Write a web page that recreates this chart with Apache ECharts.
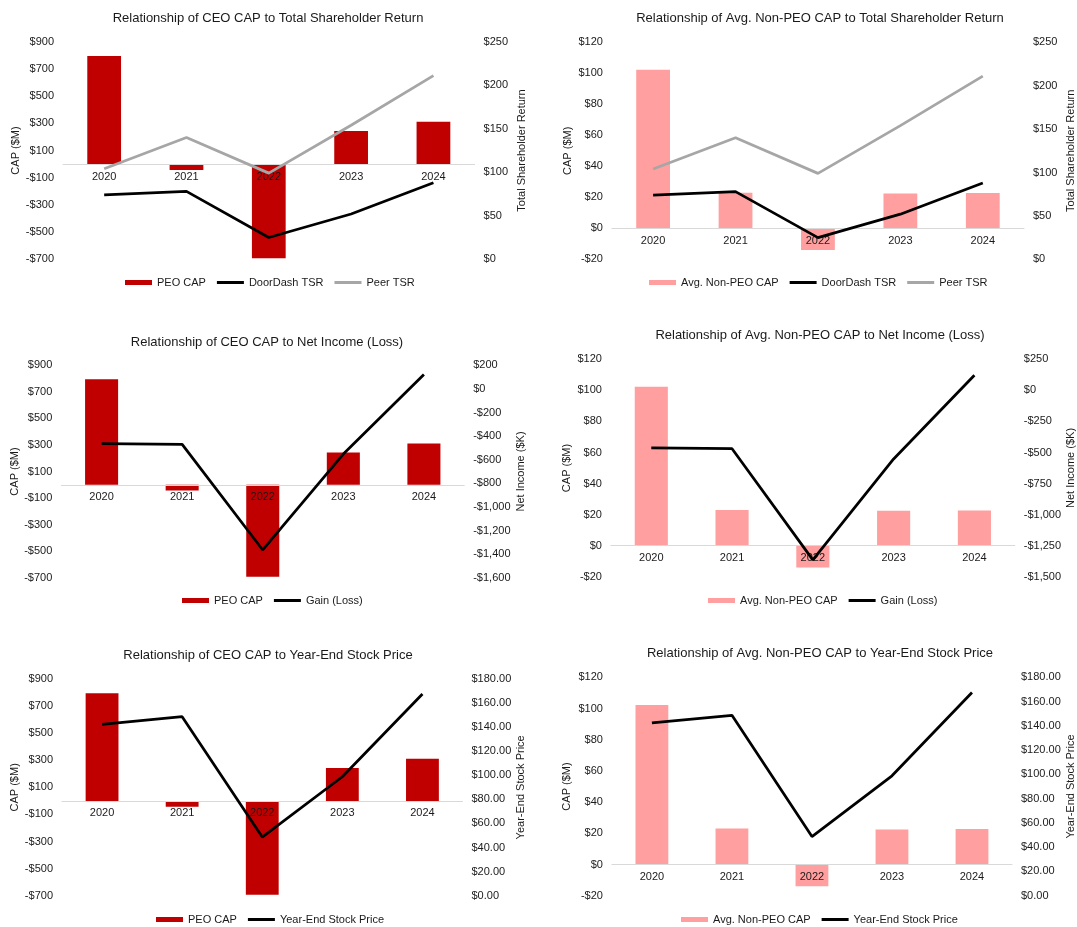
<!DOCTYPE html>
<html>
<head>
<meta charset="utf-8">
<title>Pay versus Performance</title>
<script src="https://cdn.jsdelivr.net/npm/echarts@6/dist/echarts.min.js"></script>
<style>
  html, body { margin: 0; padding: 0; background: #ffffff; }
  #chart { width: 1077px; height: 927px; }
</style>
</head>
<body>
<div id="chart"></div>
<script>
// ---- data ----
const years = ['2020', '2021', '2022', '2023', '2024'];
const peoCap = [795, -43, -693, 243, 311];            // $M
const nonPeoCap = [102.3, 23, -14, 22.4, 22.7];        // $M
const doordashTsr = [74, 78, 25, 52, 88];              // value of $100
const peerTsr = [104, 140, 99, 154, 211];
const netIncome = [-463, -470, -1365, -552, 122];      // $K axis
const stockPrice = [142.4, 148.7, 48.7, 98.8, 167.5];  // $

const titles = [
  'Relationship of CEO CAP to Total Shareholder Return',
  'Relationship of Avg. Non-PEO CAP to Total Shareholder Return',
  'Relationship of CEO CAP to Net Income (Loss)',
  'Relationship of Avg. Non-PEO CAP to Net Income (Loss)',
  'Relationship of CEO CAP to Year-End Stock Price',
  'Relationship of Avg. Non-PEO CAP to Year-End Stock Price'
];

// ---- styling ----
const FONT = '"Liberation Sans", Arial, Helvetica, sans-serif';
const TEXT = '#1a1a1a';
const RED = '#C00000';
const PINK = '#FF9F9F';
const GREY = '#A6A6A6';
const BLACK = '#000000';
// legend swatch for line series: a 3px stroke inside a 27x5 box
const LINE_ICON = 'path://M0,0 M27,5 M0,1 L27,1 L27,4 L0,4 Z';

function dollars(v) {
  const s = Math.abs(v).toLocaleString('en-US');
  return (v < 0 ? '-$' : '$') + s;
}
function price(v) { return '$' + v.toFixed(2); }

// CAP axes
const capCeo = { min: -700, max: 900, interval: 200 };
const capNeo = { min: -20, max: 120, interval: 20 };

// each panel: plot box, title/legend anchors, axes and series
const panels = [
  { box: [63, 41.7, 411.6, 217.6], tx: 268, ty: 18, lx: 125, ly: 284, gapL: 42, gapR: 42,
    cap: capCeo, capData: peoCap, capName: 'PEO CAP', capColor: RED,
    right: { name: 'Total Shareholder Return', min: 0, max: 250, interval: 50, fmt: dollars },
    lines: [{ name: 'DoorDash TSR', data: doordashTsr, color: BLACK },
            { name: 'Peer TSR', data: peerTsr, color: GREY }] },
  { box: [611.9, 42.3, 413.7, 217], tx: 820, ty: 18, lx: 649, ly: 284, gapL: 38, gapR: 41,
    cap: capNeo, capData: nonPeoCap, capName: 'Avg. Non-PEO CAP', capColor: PINK,
    right: { name: 'Total Shareholder Return', min: 0, max: 250, interval: 50, fmt: dollars },
    lines: [{ name: 'DoorDash TSR', data: doordashTsr, color: BLACK },
            { name: 'Peer TSR', data: peerTsr, color: GREY }] },
  { box: [61.3, 365.3, 402.9, 212.4], tx: 267, ty: 342.7, lx: 182, ly: 602, gapL: 41, gapR: 51,
    cap: capCeo, capData: peoCap, capName: 'PEO CAP', capColor: RED,
    right: { name: 'Net Income ($K)', min: -1600, max: 200, interval: 200, fmt: dollars },
    lines: [{ name: 'Gain (Loss)', data: netIncome, color: BLACK }] },
  { box: [610.9, 359.3, 405.8, 217.4], tx: 820, ty: 335.7, lx: 708, ly: 602, gapL: 38, gapR: 50,
    cap: capNeo, capData: nonPeoCap, capName: 'Avg. Non-PEO CAP', capColor: PINK,
    right: { name: 'Net Income ($K)', min: -1500, max: 250, interval: 250, fmt: dollars },
    lines: [{ name: 'Gain (Loss)', data: netIncome, color: BLACK }] },
  { box: [62, 679, 400.5, 216.7], tx: 268, ty: 655, lx: 156, ly: 921, gapL: 41, gapR: 53,
    cap: capCeo, capData: peoCap, capName: 'PEO CAP', capColor: RED,
    right: { name: 'Year-End Stock Price', min: 0, max: 180, interval: 20, fmt: price },
    lines: [{ name: 'Year-End Stock Price', data: stockPrice, color: BLACK }] },
  { box: [611.9, 677.3, 401.4, 218.4], tx: 820, ty: 653.3, lx: 681, ly: 921, gapL: 39, gapR: 53,
    cap: capNeo, capData: nonPeoCap, capName: 'Avg. Non-PEO CAP', capColor: PINK,
    right: { name: 'Year-End Stock Price', min: 0, max: 180, interval: 20, fmt: price },
    lines: [{ name: 'Year-End Stock Price', data: stockPrice, color: BLACK }] }
];

const grid = [], xAxis = [], yAxis = [], series = [], legend = [], graphic = [];
const labelStyle = { color: TEXT, fontSize: 11, fontFamily: FONT };

panels.forEach(function (p, i) {
  grid.push({ left: p.box[0], top: p.box[1], width: p.box[2], height: p.box[3], containLabel: false });

  // the category axis sits on the CAP axis zero: lift it from the grid bottom
  const zeroLift = p.box[3] * (0 - p.cap.min) / (p.cap.max - p.cap.min);
  xAxis.push({
    type: 'category', gridIndex: i, data: years, z: 2,
    position: 'bottom', offset: -zeroLift,
    axisLine: { show: true, onZero: false, lineStyle: { color: '#D9D9D9', width: 1 } },
    axisTick: { show: false },
    axisLabel: Object.assign({ margin: 7 }, labelStyle),
    splitLine: { show: false }
  });

  yAxis.push({
    type: 'value', gridIndex: i, position: 'left',
    min: p.cap.min, max: p.cap.max, interval: p.cap.interval,
    name: 'CAP ($M)', nameLocation: 'middle', nameRotate: 90, nameGap: p.gapL,
    nameTextStyle: { color: TEXT, fontSize: 11, fontFamily: FONT },
    axisLine: { show: false }, axisTick: { show: false }, splitLine: { show: false },
    axisLabel: Object.assign({ margin: 9, formatter: dollars }, labelStyle)
  });
  yAxis.push({
    type: 'value', gridIndex: i, position: 'right',
    min: p.right.min, max: p.right.max, interval: p.right.interval,
    name: p.right.name, nameLocation: 'middle', nameRotate: 90, nameGap: p.gapR,
    nameTextStyle: { color: TEXT, fontSize: 11, fontFamily: FONT },
    axisLine: { show: false }, axisTick: { show: false }, splitLine: { show: false },
    axisLabel: Object.assign({ margin: 9, formatter: p.right.fmt }, labelStyle)
  });

  series.push({
    type: 'bar', name: p.capName, xAxisIndex: i, yAxisIndex: 2 * i,
    data: p.capData, barWidth: '41%', z: 1,
    itemStyle: { color: p.capColor }
  });
  p.lines.forEach(function (l) {
    series.push({
      type: 'line', name: l.name, xAxisIndex: i, yAxisIndex: 2 * i + 1,
      data: l.data, symbol: 'none', z: 3,
      lineStyle: { color: l.color, width: 2.75 },
      itemStyle: { color: l.color }
    });
  });

  legend.push({
    left: p.lx, top: p.ly - 7, padding: 0,
    itemWidth: 27, itemHeight: 5, itemGap: 11,
    selectedMode: false,
    textStyle: { color: TEXT, fontSize: 11, fontFamily: FONT },
    data: [{ name: p.capName, icon: 'rect' }].concat(p.lines.map(function (l) {
      return { name: l.name, icon: LINE_ICON, itemStyle: { color: l.color, borderWidth: 0 } };
    }))
  });

  graphic.push({
    type: 'text', x: p.tx, y: p.ty,
    style: { text: titles[i], fill: TEXT, font: '13px ' + FONT, align: 'center', verticalAlign: 'middle' }
  });
});

const chart = echarts.init(document.getElementById('chart'), null, { renderer: 'canvas' });
chart.setOption({
  animation: false,
  backgroundColor: '#ffffff',
  textStyle: { fontFamily: FONT },
  grid: grid,
  xAxis: xAxis,
  yAxis: yAxis,
  series: series,
  legend: legend,
  graphic: graphic
});
</script>
</body>
</html>
